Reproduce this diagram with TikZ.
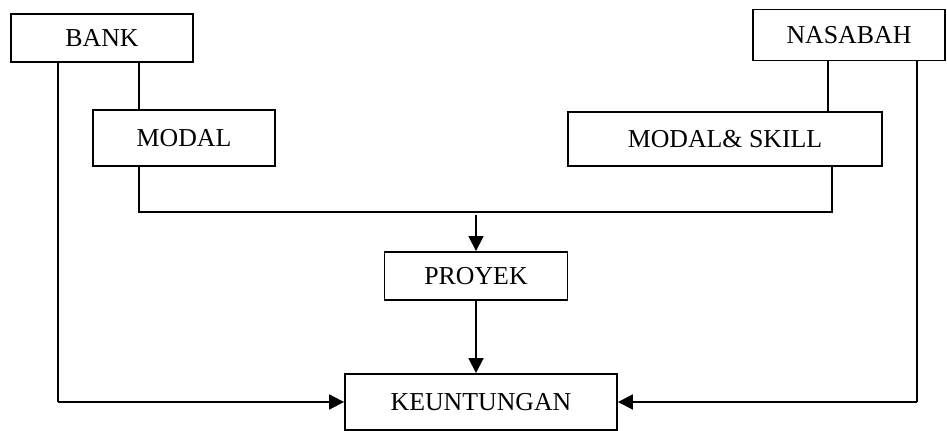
\documentclass[tikz,border=0pt]{standalone}
\usepackage{fontspec}
\setmainfont{Liberation Serif}
\usepackage{tikz}
\usetikzlibrary{arrows.meta, positioning, calc}

\begin{document}
\begin{tikzpicture}[
    x=0.02cm, y=-0.02cm,
    box/.style={draw, line width=1.1pt, inner sep=0pt, align=center, font=\fontsize{14.7}{17}\selectfont},
    link/.style={line width=0.6pt},
    arrow/.style={-{Triangle[length=8.5pt, width=8.5pt]}, line width=1.1pt}
]
    \useasboundingbox (0,0) rectangle (947,431);

    \node[box, minimum width=3.64cm, minimum height=0.96cm] (bank) at (102,38) {BANK};
    \node[box, minimum width=3.84cm, minimum height=1.02cm] (nasabah) at (849,35) {NASABAH};
    \node[box, minimum width=3.64cm, minimum height=1.12cm] (modal) at (184,138) {MODAL};
    \node[box, minimum width=6.28cm, minimum height=1.08cm] (skill) at (725,139) {MODAL\& SKILL};
    \node[box, minimum width=3.66cm, minimum height=0.96cm] (proyek) at (476,276) {PROYEK};
    \node[box, minimum width=5.44cm, minimum height=1.12cm] (untung) at (481,402) {KEUNTUNGAN};
    \coordinate (gabung) at (476,212);
    \coordinate (kiri) at ($(bank.south)+(-44,0)$);
    \coordinate (kanan) at ($(nasabah.south)+(68,0)$);

    % modal dari bank dan nasabah
    \draw[link] ($(bank.south)+(37,0)$) -- ($(modal.north)+(-45,0)$);
    \draw[link] ($(nasabah.south)+(-21,0)$) -- ($(skill.north)+(103,0)$);
    \draw[link] ($(modal.south)+(-45,0)$) |- (gabung) -| ($(skill.south)+(107,0)$);

    \draw[arrow] ($(gabung)+(0,3)$) -- (proyek.north);
    \draw[arrow] (proyek.south) -- (proyek.south |- untung.north);

    % bagi hasil
    \draw[link] (kiri) -- (kiri |- untung.west);
    \draw[arrow] (kiri |- untung.west) -- (untung.west);
    \draw[link] (kanan) -- (kanan |- untung.east);
    \draw[arrow] (kanan |- untung.east) -- (untung.east);
\end{tikzpicture}
\end{document}
